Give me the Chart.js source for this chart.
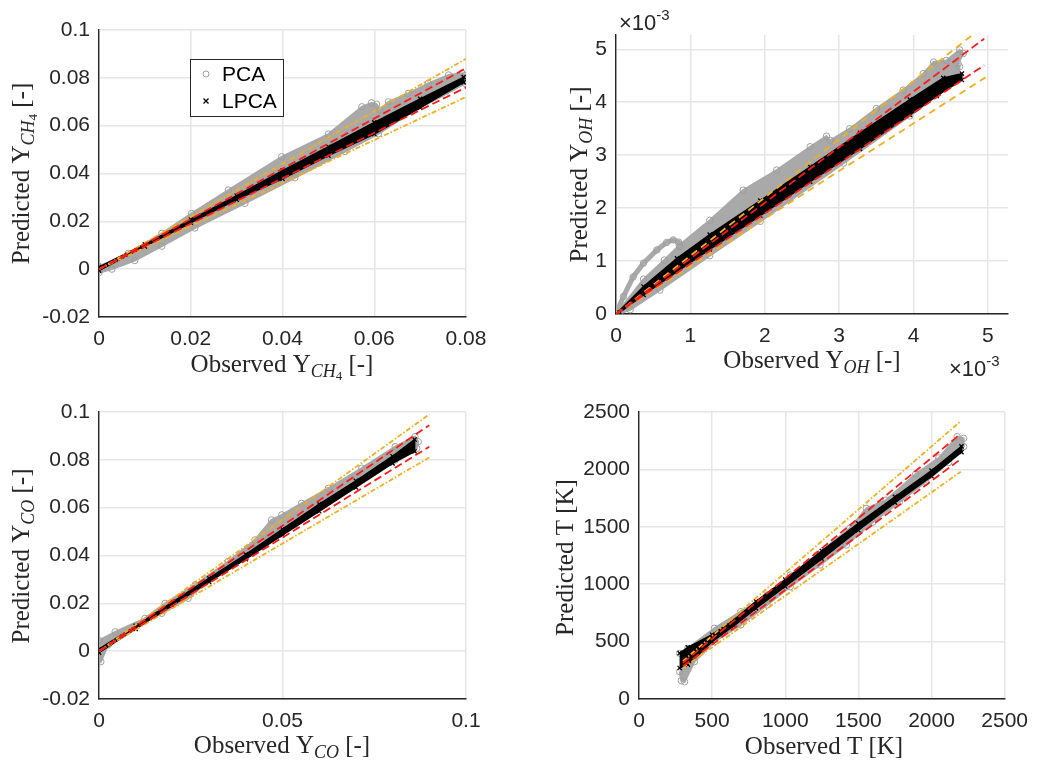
<!DOCTYPE html>
<html>
<head>
<meta charset="utf-8">
<script src="https://cdn.jsdelivr.net/npm/chart.js@4.4.1/dist/chart.umd.min.js"></script>
<style>
body { margin: 0; background: #fff; }
#wrap { position: relative; width: 1038px; height: 761px; }
canvas { position: absolute; }
</style>
</head>
<body>
<div id="wrap">
<canvas id="c1" width="519" height="390" style="left:0;top:0"></canvas>
<canvas id="c2" width="519" height="390" style="left:519px;top:0"></canvas>
<canvas id="c3" width="519" height="371" style="left:0;top:390px"></canvas>
<canvas id="c4" width="519" height="371" style="left:519px;top:390px"></canvas>
</div>
<script>
// ---- Y_CH4 : outline of the point clouds (observed, predicted)
const ch4PcaX  = [0, 0.0064, 0.0137, 0.0202, 0.0282, 0.0398, 0.0500, 0.0573, 0.0594, 0.0605, 0.0612, 0.0631, 0.0674, 0.0718, 0.0762, 0.0791, 0.0798, 0.0798, 0.0754, 0.0682, 0.0609, 0.0536, 0.0427, 0.0318, 0.0209, 0.0137, 0.0078, 0.0028, 0];
const ch4PcaY  = [0.0012, 0.0066, 0.0150, 0.0233, 0.0331, 0.0470, 0.0565, 0.0679, 0.0696, 0.0690, 0.0665, 0.0700, 0.0735, 0.0777, 0.0812, 0.0819, 0.0810, 0.0777, 0.0730, 0.0658, 0.0566, 0.0492, 0.0382, 0.0275, 0.0172, 0.0096, 0.0036, 0.0000, -0.0015];
const ch4LpcaX = [0, 0.01, 0.02, 0.03, 0.04, 0.05, 0.06, 0.07, 0.0795, 0.0795, 0.07, 0.06, 0.05, 0.04, 0.03, 0.02, 0.01, 0];
const ch4LpcaY = [0.0009, 0.0104, 0.0207, 0.0307, 0.0412, 0.0512, 0.0614, 0.0712, 0.0803, 0.0781, 0.0675, 0.0565, 0.0475, 0.0378, 0.0291, 0.0194, 0.0095, -0.0006];
const ch4LineX = [0, 0.08];
const ch4RedHi = [0, 0.084], ch4RedLo = [0, 0.076];
const ch4OrgHi = [0, 0.088], ch4OrgLo = [0, 0.072];
const ch4XTicks = [0, 0.02, 0.04, 0.06, 0.08];
const ch4YTicks = [-0.02, 0, 0.02, 0.04, 0.06, 0.08, 0.1];

// ---- Y_OH (values in units of 1e-3)
const ohPcaX  = [0, 0.37, 0.65, 0.85, 1.26, 1.71, 2.16, 2.61, 2.83, 2.88, 3.14, 3.50, 3.86, 4.13, 4.27, 4.44, 4.62, 4.67, 4.60, 4.62, 4.58, 3.95, 3.06, 1.94, 1.26, 0.59, 0.19, 0];
const ohPcaY  = [0, 0.66, 1.02, 1.30, 1.77, 2.34, 2.72, 3.16, 3.36, 3.28, 3.50, 3.88, 4.23, 4.54, 4.76, 4.79, 4.99, 4.92, 4.73, 4.67, 4.40, 3.74, 2.85, 1.75, 1.10, 0.45, 0.08, -0.02];
const ohLoopX = [0, 0.10, 0.23, 0.37, 0.55, 0.68, 0.77, 0.84, 0.86];
const ohLoopY = [0, 0.33, 0.70, 0.96, 1.21, 1.35, 1.40, 1.36, 1.27];
const ohLpcaX = [0, 0.37, 0.82, 1.26, 1.94, 2.61, 3.28, 3.95, 4.40, 4.65, 4.65, 4.31, 3.95, 3.28, 2.61, 1.94, 1.26, 0.82, 0.37, 0.05];
const ohLpcaY = [0, 0.52, 1.05, 1.50, 2.14, 2.78, 3.42, 4.05, 4.46, 4.54, 4.42, 4.12, 3.76, 3.12, 2.50, 1.86, 1.22, 0.80, 0.36, 0.03];
const ohRedX = [0, 4.95], ohRedHi = [0, 5.2], ohRedLo = [0, 4.7];
const ohOrgX = [0, 5.0], ohOrgHi = [0, 5.5], ohOrgLo = [0, 4.5];
const ohTicks = [0, 1, 2, 3, 4, 5];

// ---- Y_CO
const coPcaX  = [0, 0.0044, 0.0125, 0.018, 0.0262, 0.0352, 0.0425, 0.047, 0.0498, 0.0552, 0.0625, 0.0716, 0.0807, 0.0861, 0.087, 0.0866, 0.0807, 0.0716, 0.0625, 0.0534, 0.0461, 0.0398, 0.0307, 0.0243, 0.0171, 0.0098, 0.0025, 0.0005, 0];
const coPcaY  = [0.0045, 0.0081, 0.0137, 0.020, 0.0277, 0.0375, 0.0465, 0.0549, 0.0570, 0.0618, 0.0681, 0.0765, 0.0855, 0.0897, 0.0876, 0.0848, 0.0799, 0.0716, 0.0625, 0.0528, 0.0472, 0.0395, 0.0305, 0.0221, 0.0158, 0.0103, 0.0026, -0.0044, -0.003];
const coLpcaX = [0, 0.01, 0.02, 0.03, 0.04, 0.05, 0.06, 0.07, 0.08, 0.086, 0.086, 0.08, 0.07, 0.06, 0.05, 0.04, 0.03, 0.02, 0.01, 0];
const coLpcaY = [0.0008, 0.0106, 0.0205, 0.0305, 0.0405, 0.051, 0.0615, 0.0712, 0.0815, 0.0885, 0.0835, 0.0785, 0.0685, 0.0585, 0.0485, 0.0385, 0.029, 0.0192, 0.0093, -0.0006];
const coLineX = [0, 0.09];
const coRedHi = [0, 0.0945], coRedLo = [0, 0.0855];
const coOrgHi = [0, 0.099], coOrgLo = [0, 0.081];
const coXTicks = [0, 0.05, 0.1];
const coYTicks = [-0.02, 0, 0.02, 0.04, 0.06, 0.08, 0.1];

// ---- T [K]
const tPcaX  = [278, 334, 515, 696, 876, 1034, 1215, 1441, 1554, 1689, 1892, 2050, 2175, 2220, 2220, 2118, 1960, 1780, 1599, 1418, 1238, 1034, 876, 696, 515, 379, 312, 289, 278];
const tPcaY  = [398, 441, 616, 761, 906, 1080, 1254, 1487, 1661, 1733, 1960, 2100, 2285, 2271, 2198, 2060, 1890, 1715, 1540, 1341, 1167, 978, 819, 645, 499, 325, 150, 160, 238];
const tLpcaX = [278, 334, 500, 650, 800, 1000, 1250, 1500, 1750, 2000, 2205, 2205, 2000, 1750, 1500, 1250, 1000, 800, 650, 500, 334, 278];
const tLpcaY = [400, 450, 560, 690, 850, 1040, 1290, 1530, 1760, 1990, 2200, 2150, 1940, 1710, 1470, 1220, 980, 790, 640, 500, 300, 270];
const tLineX = [300, 2200];
const tRedHi = [315, 2310], tRedLo = [285, 2090];
const tOrgHi = [330, 2420], tOrgLo = [270, 1980];
const tTicks = [0, 500, 1000, 1500, 2000, 2500];

const sans = '"Liberation Sans", Arial, sans-serif';
const serif = '"Liberation Serif", "Times New Roman", serif';
const ink = '#262626';

function pts(xs, ys) {
    return xs.map(function(x, i) { return { x: x, y: ys[i] }; });
}

function fmtNum(v) {
    return String(+v.toFixed(4));
}

// text with sub / superscripts, centred on x (or on y when vertical)
function drawRich(ctx, parts, x, y, vertical) {
    const fonts = {
        n: ['25px ' + serif, 0],
        s: ['italic 18px ' + serif, 5],
        ss: ['13px ' + serif, 8],
        e: ['22px ' + sans, 0],
        sup: ['15px ' + sans, -10]
    };
    let total = 0;
    parts.forEach(function(p) {
        ctx.font = fonts[p[1]][0];
        total += ctx.measureText(p[0]).width;
    });
    ctx.save();
    ctx.translate(x, y);
    if (vertical) ctx.rotate(-Math.PI / 2);
    ctx.fillStyle = ink;
    ctx.textAlign = 'left';
    ctx.textBaseline = 'alphabetic';
    let cx = vertical || parts[0][1] !== 'e' ? -total / 2 : 0;
    parts.forEach(function(p) {
        ctx.font = fonts[p[1]][0];
        ctx.fillText(p[0], cx, fonts[p[1]][1]);
        cx += ctx.measureText(p[0]).width;
    });
    ctx.restore();
}

function lineSet(xs, ys, color, dash) {
    return {
        data: pts(xs, ys), borderColor: color, borderWidth: 1.8, borderDash: dash,
        pointRadius: 0, fill: false, order: 1, clip: 0
    };
}

function makeChart(id, o) {
    const sets = [];
    sets.push(lineSet(o.redX, o.redHi, '#ff1a1a', [8, 4]));
    sets.push(lineSet(o.redX, o.redLo, '#ff1a1a', [8, 4]));
    sets.push(lineSet(o.orgX, o.orgHi, '#edb120', o.orgDash));
    sets.push(lineSet(o.orgX, o.orgLo, '#edb120', o.orgDash));
    sets.push({
        label: 'LPCA', data: pts(o.lpca[0], o.lpca[1]),
        borderColor: '#000', backgroundColor: '#000', fill: 'shape', borderWidth: 1.5,
        pointStyle: 'crossRot', pointRadius: 3, pointBorderColor: '#000', pointBorderWidth: 1.3,
        order: 3, clip: 0
    });
    sets.push({
        label: 'PCA', data: pts(o.pca[0], o.pca[1]),
        borderColor: '#a8a8a8', backgroundColor: '#a9a9a9', fill: 'shape', borderWidth: 2,
        pointStyle: 'circle', pointRadius: 3.2, pointBorderColor: '#9e9e9e',
        pointBackgroundColor: 'rgba(0,0,0,0)', pointBorderWidth: 1,
        order: 5, clip: 0
    });
    if (o.loop) {
        sets.push({
            data: pts(o.loop[0], o.loop[1]),
            borderColor: '#a9a9a9', borderWidth: 5, fill: false,
            pointStyle: 'circle', pointRadius: 3.2, pointBorderColor: '#9e9e9e',
            pointBackgroundColor: 'rgba(0,0,0,0)', pointBorderWidth: 1,
            order: 4, clip: 0
        });
    }

    function axis(min, max, ticks, fmt, isX) {
        return {
            type: 'linear', min: min, max: max,
            afterBuildTicks: function(s) { s.ticks = ticks.map(function(v) { return { value: v }; }); },
            afterFit: function(s) { if (isX) s.height = o.xH; else s.width = o.yW; },
            ticks: {
                callback: fmt, color: ink, padding: isX ? 10 : 9, autoSkip: false, maxRotation: 0,
                font: { family: sans, size: 21 }
            },
            grid: { color: '#e6e6e6', lineWidth: 1.5, drawTicks: false },
            border: { color: ink, width: 1.4 },
            title: { display: false }
        };
    }

    return new Chart(document.getElementById(id), {
        type: 'line',
        data: { datasets: sets },
        options: {
            responsive: false,
            animation: false,
            events: [],
            elements: { line: { tension: 0 } },
            layout: { padding: { top: o.top, right: o.right, left: 0, bottom: 0 } },
            scales: {
                x: axis(o.xMin, o.xMax, o.xTicks, o.fmt, true),
                y: axis(o.yMin, o.yMax, o.yTicks, o.fmt, false)
            },
            plugins: { legend: { display: false }, tooltip: { enabled: false } }
        },
        plugins: [{
            id: 'texts',
            afterDraw: function(chart) { o.draw(chart.ctx, chart); }
        }]
    });
}

// legend box of the first panel
function drawLegend(ctx, chart) {
    const sets = chart.data.datasets;
    const pca = sets.find(function(d) { return d.label === 'PCA'; });
    const lpca = sets.find(function(d) { return d.label === 'LPCA'; });
    ctx.save();
    ctx.fillStyle = '#fff';
    ctx.fillRect(190.5, 59.5, 93, 57);
    ctx.strokeStyle = ink;
    ctx.lineWidth = 1;
    ctx.strokeRect(190.5, 59.5, 93, 57);
    ctx.strokeStyle = pca.pointBorderColor;
    ctx.beginPath();
    ctx.arc(206, 74, 3, 0, Math.PI * 2);
    ctx.stroke();
    ctx.strokeStyle = '#000';
    ctx.lineWidth = 1.3;
    ctx.beginPath();
    ctx.moveTo(203.5, 98.5); ctx.lineTo(208.5, 103.5);
    ctx.moveTo(208.5, 98.5); ctx.lineTo(203.5, 103.5);
    ctx.stroke();
    ctx.fillStyle = '#000';
    ctx.font = '21px ' + sans;
    ctx.textBaseline = 'middle';
    ctx.fillText(pca.label, 222, 75);
    ctx.fillText(lpca.label, 222, 102);
    ctx.restore();
}

makeChart('c1', {
    pca: [ch4PcaX, ch4PcaY], lpca: [ch4LpcaX, ch4LpcaY],
    redX: ch4LineX, redHi: ch4RedHi, redLo: ch4RedLo,
    orgX: ch4LineX, orgHi: ch4OrgHi, orgLo: ch4OrgLo, orgDash: [5, 2, 1.5, 2],
    xMin: 0, xMax: 0.08, yMin: -0.02, yMax: 0.1, xTicks: ch4XTicks, yTicks: ch4YTicks, fmt: fmtNum,
    yW: 99, xH: 73, top: 30, right: 53,
    draw: function(ctx, chart) {
        drawLegend(ctx, chart);
        drawRich(ctx, [['Observed Y', 'n'], ['CH', 's'], ['4', 'ss'], [' [-]', 'n']], 282, 372, false);
        drawRich(ctx, [['Predicted Y', 'n'], ['CH', 's'], ['4', 'ss'], [' [-]', 'n']], 29, 173.5, true);
    }
});

makeChart('c2', {
    pca: [ohPcaX, ohPcaY], loop: [ohLoopX, ohLoopY], lpca: [ohLpcaX, ohLpcaY],
    redX: ohRedX, redHi: ohRedHi, redLo: ohRedLo,
    orgX: ohOrgX, orgHi: ohOrgHi, orgLo: ohOrgLo, orgDash: [7, 5],
    xMin: 0, xMax: 5.27, yMin: 0, yMax: 5.27, xTicks: ohTicks, yTicks: ohTicks, fmt: fmtNum,
    yW: 97, xH: 76, top: 35, right: 30,
    draw: function(ctx) {
        drawRich(ctx, [['Observed Y', 'n'], ['OH', 's'], [' [-]', 'n']], 293, 368, false);
        drawRich(ctx, [['Predicted Y', 'n'], ['OH', 's'], [' [-]', 'n']], 68, 174.5, true);
        drawRich(ctx, [['\u00d710', 'e'], ['-3', 'sup']], 100, 30, false);
        drawRich(ctx, [['\u00d710', 'e'], ['-3', 'sup']], 430, 376, false);
    }
});

makeChart('c3', {
    pca: [coPcaX, coPcaY], lpca: [coLpcaX, coLpcaY],
    redX: coLineX, redHi: coRedHi, redLo: coRedLo,
    orgX: coLineX, orgHi: coOrgHi, orgLo: coOrgLo, orgDash: [5, 2, 1.5, 2],
    xMin: 0, xMax: 0.1, yMin: -0.02, yMax: 0.1, xTicks: coXTicks, yTicks: coYTicks, fmt: fmtNum,
    yW: 99, xH: 62, top: 22, right: 53,
    draw: function(ctx) {
        drawRich(ctx, [['Observed Y', 'n'], ['CO', 's'], [' [-]', 'n']], 282, 363, false);
        drawRich(ctx, [['Predicted Y', 'n'], ['CO', 's'], [' [-]', 'n']], 29, 166, true);
    }
});

makeChart('c4', {
    pca: [tPcaX, tPcaY], lpca: [tLpcaX, tLpcaY],
    redX: tLineX, redHi: tRedHi, redLo: tRedLo,
    orgX: tLineX, orgHi: tOrgHi, orgLo: tOrgLo, orgDash: [5, 2, 1.5, 2],
    xMin: 0, xMax: 2500, yMin: 0, yMax: 2500, xTicks: tTicks, yTicks: tTicks, fmt: fmtNum,
    yW: 120, xH: 62, top: 22, right: 30,
    draw: function(ctx) {
        drawRich(ctx, [['Observed T [K]', 'n']], 305, 364, false);
        drawRich(ctx, [['Predicted T [K]', 'n']], 54, 167.5, true);
    }
});
</script>
</body>
</html>
